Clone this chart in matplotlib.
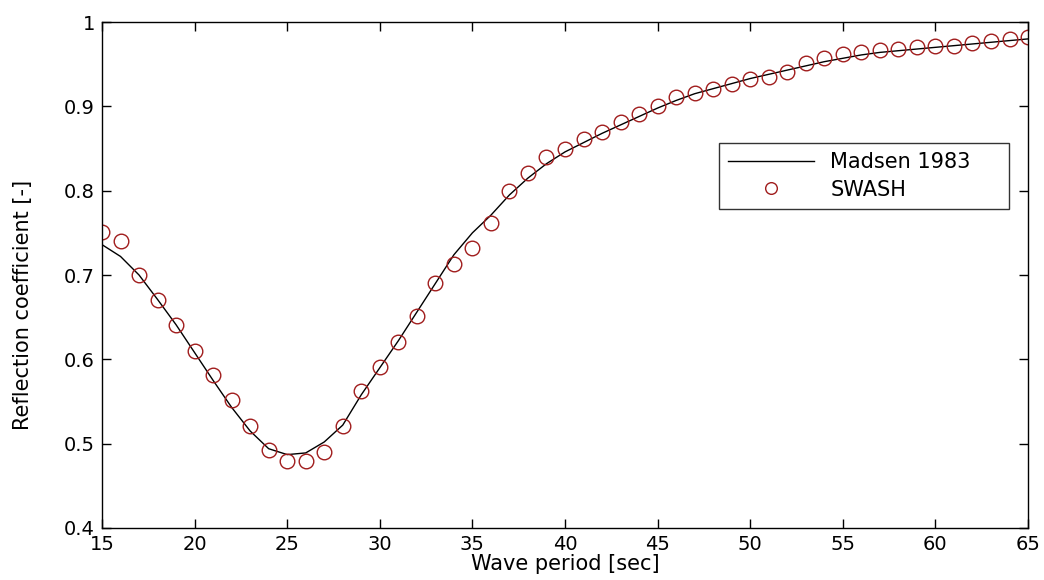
import matplotlib
matplotlib.use("Agg")
import matplotlib.pyplot as plt
from matplotlib.ticker import FuncFormatter

# Wave period [sec]
periods = list(range(15, 66))

# Analytical reflection coefficient (Madsen 1983)
madsen = [
    0.736, 0.722, 0.700, 0.671, 0.641, 0.608, 0.575, 0.543, 0.515, 0.494,
    0.487, 0.489, 0.502, 0.522, 0.558, 0.590, 0.622, 0.656, 0.690, 0.724,
    0.750, 0.771, 0.795, 0.815, 0.832, 0.846, 0.857, 0.868, 0.878, 0.888,
    0.898, 0.907, 0.915, 0.921, 0.927, 0.933, 0.938, 0.943, 0.948, 0.953,
    0.957, 0.961, 0.964, 0.966, 0.968, 0.970, 0.972, 0.974, 0.976, 0.978,
    0.980,
]

# SWASH model results
swash = [
    0.751, 0.740, 0.700, 0.670, 0.641, 0.610, 0.581, 0.552, 0.521, 0.492,
    0.480, 0.480, 0.490, 0.521, 0.562, 0.591, 0.621, 0.651, 0.691, 0.713,
    0.732, 0.762, 0.800, 0.821, 0.840, 0.850, 0.861, 0.870, 0.881, 0.891,
    0.900, 0.911, 0.916, 0.921, 0.927, 0.932, 0.935, 0.941, 0.952, 0.957,
    0.962, 0.965, 0.967, 0.968, 0.970, 0.971, 0.972, 0.975, 0.978, 0.980,
    0.982,
]

xticks = [15, 20, 25, 30, 35, 40, 45, 50, 55, 60, 65]
yticks = [0.4, 0.5, 0.6, 0.7, 0.8, 0.9, 1.0]

plt.rcParams["font.family"] = ["DejaVu Sans"]

fig = plt.figure(figsize=(10.44, 5.80), dpi=100)
ax = fig.add_axes([0.0977, 0.0897, 0.887, 0.8723])

ax.plot(periods, madsen, color="black", lw=1.0, label="Madsen 1983")
ax.plot(periods, swash, ls="none", marker="o", ms=10.5, mfc="none",
        mec="#a01c1c", mew=1.0, label="SWASH")

ax.set_xlim(15, 65)
ax.set_ylim(0.4, 1.0)
ax.set_xticks(xticks)
ax.set_yticks(yticks)
ax.yaxis.set_major_formatter(FuncFormatter(lambda v, p: f"{v:g}"))
ax.tick_params(direction="in", length=6.5, width=1.0, top=True, right=True,
               labelsize=14, pad=5)
for s in ax.spines.values():
    s.set_linewidth(1.0)

ax.set_xlabel("Wave period [sec]", fontsize=15, labelpad=0)
ax.set_ylabel("Reflection coefficient [-]", fontsize=15, labelpad=12)
ax.yaxis.set_label_coords(-0.075, 0.44)

leg = ax.legend(loc="upper left", bbox_to_anchor=(0.6663, 0.7609, 0.3132, 0),
                mode="expand", fontsize=15, frameon=True, fancybox=False,
                handlelength=4.1, handletextpad=0.8, borderpad=0.45,
                labelspacing=0.35, borderaxespad=0, markerscale=0.8)
leg.get_frame().set_edgecolor("black")
leg.get_frame().set_linewidth(1.0)

fig.savefig("out.png", dpi=100)
